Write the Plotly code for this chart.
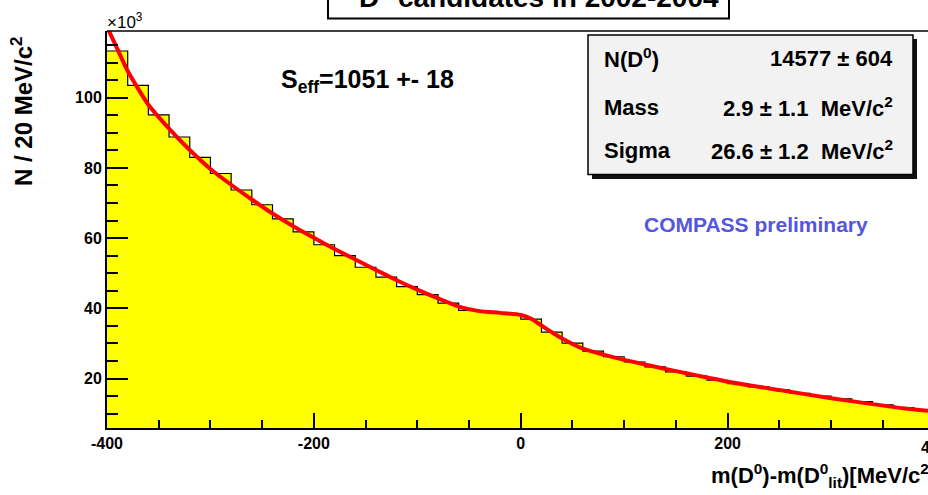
import plotly.graph_objects as go

# ---------------- data (values in units of 10^3 entries) ----------------
bin_centers = [-390, -370, -350, -330, -310, -290, -270, -250, -230, -210,
               -190, -170, -150, -130, -110, -90, -70, -50, -30, -10,
               10, 30, 50, 70, 90, 110, 130, 150, 170, 190,
               210, 230, 250, 270, 290, 310, 330, 350, 370, 390]
counts = [113.3, 103.5, 95.1, 88.8, 83.0, 78.4, 73.7, 69.5, 65.5, 61.8,
          58.1, 55.0, 51.7, 48.9, 46.2, 43.9, 41.5, 39.4, 38.9, 38.5,
          36.9, 33.2, 30.1, 27.8, 26.2, 24.7, 23.3, 21.9, 20.7, 19.5,
          18.5, 17.6, 16.8, 15.8, 15.0, 14.2, 13.4, 12.5, 11.7, 10.9]
bin_width = 20

fit_x = [-400, -390, -380, -360, -340, -320, -300, -280, -260, -240, -220, -200,
         -180, -160, -140, -120, -100, -80, -60, -40, -20, 0, 10, 20, 30, 40,
         60, 80, 100, 120, 140, 160, 180, 200, 250, 300, 340, 370, 400]
fit_y = [120.2, 113.9, 107.6, 98.0, 91.2, 85.1, 79.7, 75.2, 71.0, 67.0, 63.4, 60.1,
         56.9, 53.9, 50.9, 48.0, 45.3, 42.8, 40.5, 39.2, 38.7, 38.1, 37.0, 35.1, 33.2, 31.4,
         28.5, 26.8, 25.3, 24.0, 22.7, 21.5, 20.3, 19.1, 16.7, 14.4, 12.7, 11.5, 10.6]

x_tick_vals = [-400, -200, 0, 200]
x_tick_text = ["-400", "-200", "0", "200"]
y_tick_vals = [20, 40, 60, 80, 100]
y_tick_text = ["20", "40", "60", "80", "100"]

stats_labels = ["N(D<sup>0</sup>)", "Mass", "Sigma"]
stats_values = ["14577 \u00b1 604", "2.9 \u00b1 1.1  MeV/c<sup>2</sup>", "26.6 \u00b1 1.2  MeV/c<sup>2</sup>"]

# ---------------- geometry ----------------
W, H = 928, 495
L, T, B = 107, 31, 428
PW, PH = W - L, B - T


def px(x):
    return (x - L) / PW


def py(y):
    return (B - y) / PH


FONT = "Liberation Sans, Arial, Helvetica, sans-serif"

# step outline of the histogram
edges = [c - bin_width / 2 for c in bin_centers] + [bin_centers[-1] + bin_width / 2]
step_y = counts + [counts[-1]]

fig = go.Figure()
fig.add_trace(go.Scatter(
    x=edges, y=step_y, mode="lines", line=dict(shape="hv", color="black", width=1.2),
    fill="tozeroy", fillcolor="#ffff00", hoverinfo="skip", showlegend=False))
fig.add_trace(go.Scatter(
    x=fit_x, y=fit_y, mode="lines",
    line=dict(shape="spline", smoothing=0.6, color="#ff0000", width=4),
    showlegend=False))

shapes = []
# top frame line
shapes.append(dict(type="line", xref="paper", yref="paper", x0=0, x1=1.02, y0=1, y1=1,
                   line=dict(color="black", width=1.5)))
# title box
shapes.append(dict(type="rect", xref="paper", yref="paper", x0=px(328), x1=px(729),
                   y0=py(18.5), y1=py(-40), line=dict(color="black", width=2), fillcolor="white"))
# stats box shadow and box
shapes.append(dict(type="rect", xref="paper", yref="paper", x0=px(592), x1=px(917),
                   y0=py(179), y1=py(39), line=dict(width=0), fillcolor="#111111"))
shapes.append(dict(type="rect", xref="paper", yref="paper", x0=px(588), x1=px(913),
                   y0=py(174.5), y1=py(35), line=dict(color="black", width=1.5), fillcolor="#f2f2f2"))

ann = []
bold = dict(family=FONT, color="black", weight="bold")
ann.append(dict(text="D<sup>0</sup> candidates in 2002-2004", xref="paper", yref="paper",
                x=px(539), y=py(-5), xanchor="center", yanchor="middle", showarrow=False,
                font=dict(bold, size=28)))
rows_y = [58, 107, 150]
for lab, val, yy in zip(stats_labels, stats_values, rows_y):
    ann.append(dict(text=lab, xref="paper", yref="paper", x=px(602), y=py(yy),
                    xanchor="left", yanchor="middle", showarrow=False, font=dict(bold, size=22)))
    ann.append(dict(text=val, xref="paper", yref="paper", x=px(895), y=py(yy),
                    xanchor="right", yanchor="middle", showarrow=False, font=dict(bold, size=22)))
ann.append(dict(text="S<sub>eff</sub>=1051 +- 18", xref="paper", yref="paper",
                x=px(279), y=py(81), xanchor="left", yanchor="middle", showarrow=False,
                font=dict(bold, size=25)))
ann.append(dict(text="COMPASS preliminary", xref="paper", yref="paper",
                x=px(756), y=py(224), xanchor="center", yanchor="middle", showarrow=False,
                font=dict(family=FONT, size=21, color="#5555dd", weight="bold")))
ann.append(dict(text="\u00d710<sup>3</sup>", xref="paper", yref="paper",
                x=px(105), y=py(21), xanchor="left", yanchor="middle", showarrow=False,
                font=dict(family=FONT, size=17, color="black")))
ann.append(dict(text="N / 20 MeV/c<sup>2</sup>", xref="paper", yref="paper", textangle=-90,
                x=px(22), y=py(112), xanchor="center", yanchor="middle", showarrow=False,
                font=dict(bold, size=24)))
ann.append(dict(text="m(D<sup>0</sup>)-m(D<sup>0</sup><sub>lit</sub>)[MeV/c<sup>2</sup>]",
                xref="paper", yref="paper", x=px(709), y=py(475), xanchor="left",
                yanchor="middle", showarrow=False, font=dict(bold, size=22)))
# tick label 400 sits just past the visible edge
ann.append(dict(text="400", xref="paper", yref="paper", x=px(934.5), y=py(447),
                xanchor="center", yanchor="middle", showarrow=False, font=dict(bold, size=16)))

fig.update_layout(
    width=W, height=H, margin=dict(l=L, r=0, t=T, b=H - B),
    paper_bgcolor="white", plot_bgcolor="white",
    shapes=shapes, annotations=ann, showlegend=False,
    xaxis=dict(range=[-400, 393.7], showgrid=False, zeroline=False,
               tickvals=x_tick_vals, ticktext=x_tick_text, ticks="inside", ticklen=15,
               tickwidth=2, tickcolor="black", showline=True, linecolor="black", linewidth=2,
               tickfont=dict(family=FONT, size=16, color="black", weight="bold"),
               minor=dict(dtick=50, tick0=0, ticks="inside", ticklen=8, tickwidth=2,
                          tickcolor="black", showgrid=False)),
    yaxis=dict(range=[5.9, 119], showgrid=False, zeroline=False,
               tickvals=y_tick_vals, ticktext=y_tick_text, ticks="inside", ticklen=21,
               tickwidth=2, tickcolor="black", showline=True, linecolor="black", linewidth=2,
               tickfont=dict(family=FONT, size=16, color="black", weight="bold"),
               minor=dict(dtick=5, tick0=0, ticks="inside", ticklen=11, tickwidth=2,
                          tickcolor="black", showgrid=False)),
)

fig.write_html("out.html")
